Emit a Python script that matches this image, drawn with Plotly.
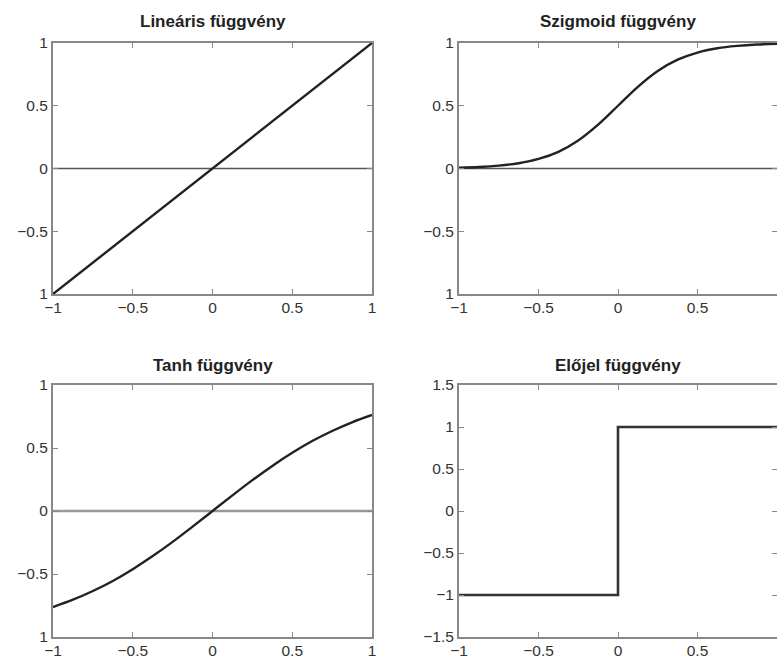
import plotly.graph_objects as go

# ---- data ----
lin_x = [-1.0, 1.0]
lin_y = [-1.0, 1.0]

sig_x = [-1.0, -0.875, -0.75, -0.625, -0.5, -0.375, -0.25, -0.125, 0.0,
         0.125, 0.25, 0.375, 0.5, 0.625, 0.75, 0.875, 1.0]
sig_y = [0.007, 0.012, 0.023, 0.042, 0.076, 0.133, 0.223, 0.349, 0.5,
         0.651, 0.777, 0.867, 0.924, 0.958, 0.977, 0.988, 0.993]

tanh_x = [-1.0, -0.875, -0.75, -0.625, -0.5, -0.375, -0.25, -0.125, 0.0,
          0.125, 0.25, 0.375, 0.5, 0.625, 0.75, 0.875, 1.0]
tanh_y = [-0.762, -0.704, -0.635, -0.555, -0.462, -0.358, -0.245, -0.124, 0.0,
          0.124, 0.245, 0.358, 0.462, 0.555, 0.635, 0.704, 0.762]

sgn_x = [-1.0, 0.0, 0.0, 1.0]
sgn_y = [-1.0, -1.0, 1.0, 1.0]

zero_x = [-1.0, 1.0]
zero_y = [0.0, 0.0]

titles = ["Lineáris függvény", "Szigmoid függvény", "Tanh függvény", "Előjel függvény"]

x_ticks = [-1, -0.5, 0, 0.5, 1]
x_labels = ["\u22121", "\u22120.5", "0", "0.5", "1"]
y_ticks_a = [-1, -0.5, 0, 0.5, 1]
y_labels_a = ["1", "\u22120.5", "0", "0.5", "1"]
y_ticks_b = [-1.5, -1, -0.5, 0, 0.5, 1, 1.5]
y_labels_b = ["\u22121.5", "\u22121", "\u22120.5", "0", "0.5", "1", "1.5"]

W, H = 777, 657
fig = go.Figure()

fig.add_trace(go.Scatter(x=zero_x, y=zero_y, mode="lines", line=dict(color="#555555", width=1.4), xaxis="x", yaxis="y"))
fig.add_trace(go.Scatter(x=lin_x, y=lin_y, mode="lines", line=dict(color="#222222", width=2.4), xaxis="x", yaxis="y"))

fig.add_trace(go.Scatter(x=zero_x, y=zero_y, mode="lines", line=dict(color="#555555", width=1.4), xaxis="x2", yaxis="y2"))
fig.add_trace(go.Scatter(x=sig_x, y=sig_y, mode="lines", line=dict(color="#222222", width=2.4, shape="spline"), xaxis="x2", yaxis="y2"))

fig.add_trace(go.Scatter(x=zero_x, y=zero_y, mode="lines", line=dict(color="#999999", width=2.4), xaxis="x3", yaxis="y3"))
fig.add_trace(go.Scatter(x=tanh_x, y=tanh_y, mode="lines", line=dict(color="#222222", width=2.4, shape="spline"), xaxis="x3", yaxis="y3"))

fig.add_trace(go.Scatter(x=sgn_x, y=sgn_y, mode="lines", line=dict(color="#333333", width=2.6), xaxis="x4", yaxis="y4"))


def xdom(a, b):
    return [a / W, min(b / W, 1.0)]


def ydom(top, bottom):
    return [1 - bottom / H, 1 - top / H]


tickfont = dict(family="Liberation Sans, Arial, sans-serif", size=15.5, color="#333333")
common = dict(showline=True, linecolor="#888888", linewidth=2, mirror="ticks",
              ticks="inside", ticklen=5, tickcolor="#888888", tickwidth=1.2,
              showgrid=False, zeroline=False, tickfont=tickfont, fixedrange=True,
              automargin=False)
xcommon = dict(common, ticklabelstandoff=-2)

xl = xdom(53, 372)
xr = xdom(459, 777)
yt = ydom(43, 294)
yb = ydom(385, 637)

fig.update_layout(
    width=W, height=H,
    margin=dict(l=0, r=0, t=0, b=0, pad=0),
    paper_bgcolor="white", plot_bgcolor="white",
    showlegend=False,
    xaxis=dict(domain=xl, range=[-1, 1], tickvals=x_ticks, ticktext=x_labels, anchor="y", **xcommon),
    yaxis=dict(domain=yt, range=[-1, 1], tickvals=y_ticks_a, ticktext=y_labels_a, anchor="x", **common),
    xaxis2=dict(domain=xr, range=[-1, 1], tickvals=x_ticks, ticktext=x_labels, anchor="y2", **xcommon),
    yaxis2=dict(domain=yt, range=[-1, 1], tickvals=y_ticks_a, ticktext=y_labels_a, anchor="x2", **common),
    xaxis3=dict(domain=xl, range=[-1, 1], tickvals=x_ticks, ticktext=x_labels, anchor="y3", **xcommon),
    yaxis3=dict(domain=yb, range=[-1, 1], tickvals=y_ticks_a, ticktext=y_labels_a, anchor="x3", **common),
    xaxis4=dict(domain=xr, range=[-1, 1], tickvals=x_ticks, ticktext=x_labels, anchor="y4", **xcommon),
    yaxis4=dict(domain=yb, range=[-1.5, 1.5], tickvals=y_ticks_b, ticktext=y_labels_b, anchor="x4", **common),
)

title_font = dict(family="Liberation Sans, Arial, sans-serif", size=17, color="#222222")
centers = [((xl[0] + xl[1]) / 2, 1 - 21 / H), ((xr[0] + xr[1]) / 2, 1 - 21 / H),
           ((xl[0] + xl[1]) / 2, 1 - 365 / H), ((xr[0] + xr[1]) / 2, 1 - 365 / H)]
for t, (cx, cy) in zip(titles, centers):
    fig.add_annotation(text="<b>" + t + "</b>", x=cx, y=cy, xref="paper", yref="paper",
                       showarrow=False, font=title_font, xanchor="center", yanchor="middle")

fig.write_html("out.html", config={"displayModeBar": False},
               post_script="document.body.style.margin='0';document.body.style.overflow='hidden';")
